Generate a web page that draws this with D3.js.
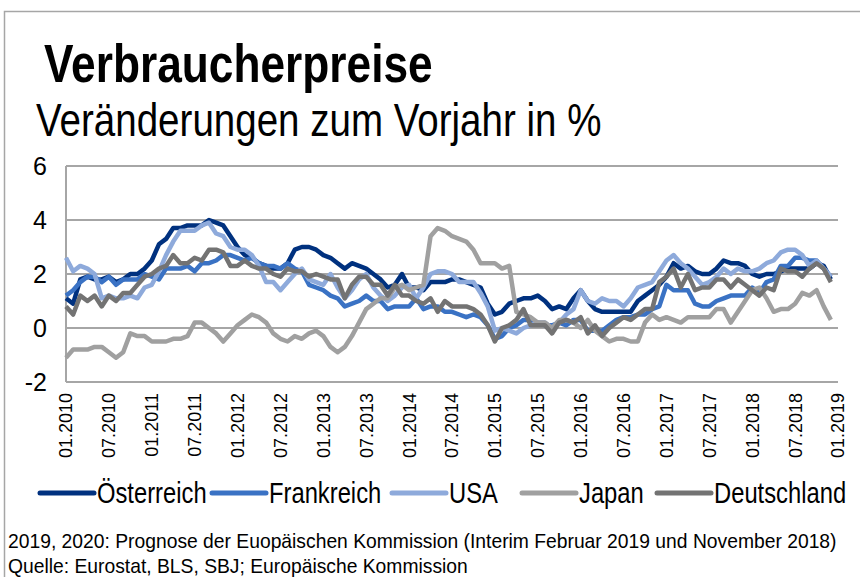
<!DOCTYPE html>
<html>
<head>
<meta charset="utf-8">
<script src="https://cdn.jsdelivr.net/npm/d3@7"></script>
<style>
  html, body { margin: 0; padding: 0; background: #fff; }
  svg { display: block; }
</style>
</head>
<body>
<div class="chartcontainer"></div>
<script>
// monthly values, 01.2010 - 12.2018, year on year change in %
const oesterreich = [
  1.1, 0.9, 1.8, 1.9, 1.8, 1.8, 1.9, 1.7, 1.8, 2.0, 2.0, 2.2,
  2.5, 3.1, 3.3, 3.7, 3.7, 3.8, 3.8, 3.8, 4.0, 3.9, 3.8, 3.4,
  3.0, 2.7, 2.6, 2.4, 2.3, 2.2, 2.2, 2.4, 2.9, 3.0, 3.0, 2.9,
  2.7, 2.6, 2.4, 2.2, 2.4, 2.3, 2.2, 2.0, 1.8, 1.5, 1.6, 2.0,
  1.5, 1.5, 1.4, 1.7, 1.7, 1.7, 1.8, 1.8, 1.7, 1.6, 1.5, 0.9,
  0.5, 0.6, 0.9, 1.0, 1.1, 1.1, 1.2, 1.0, 0.7, 0.8, 0.7, 1.1,
  1.4, 1.0, 0.7, 0.6, 0.6, 0.6, 0.6, 0.6, 1.0, 1.2, 1.4, 1.6,
  1.9, 2.4, 2.2, 2.3, 2.1, 2.0, 2.0, 2.2, 2.5, 2.4, 2.4, 2.3,
  2.0, 1.9, 2.0, 2.0, 2.1, 2.2, 2.2, 2.2, 2.2, 2.4, 2.3, 1.8,
];
const frankreich = [
  1.2, 1.4, 1.7, 1.9, 1.9, 1.7, 1.9, 1.6, 1.8, 1.8, 1.8, 2.0,
  1.9, 1.8, 2.2, 2.2, 2.2, 2.3, 2.1, 2.4, 2.4, 2.5, 2.7, 2.7,
  2.6, 2.5, 2.6, 2.4, 2.3, 2.3, 2.2, 2.4, 2.2, 2.1, 1.6, 1.5,
  1.4, 1.2, 1.1, 0.8, 0.9, 1.0, 1.2, 1.0, 1.0, 0.7, 0.8, 0.8,
  0.8, 1.1, 0.7, 0.8, 0.8, 0.6, 0.6, 0.5, 0.4, 0.5, 0.4, 0.1,
  -0.4, -0.3, 0.0, 0.1, 0.3, 0.3, 0.2, 0.1, 0.1, 0.2, 0.1, 0.3,
  0.3, -0.1, -0.1, -0.1, 0.1, 0.3, 0.4, 0.4, 0.5, 0.5, 0.7, 0.8,
  1.6, 1.4, 1.4, 1.4, 0.9, 0.8, 0.8, 1.0, 1.1, 1.2, 1.2, 1.2,
  1.5, 1.3, 1.7, 1.8, 2.3, 2.3, 2.6, 2.6, 2.5, 2.5, 2.2, 1.9,
];
const usa = [
  2.6, 2.1, 2.3, 2.2, 2.0, 1.1, 1.2, 1.1, 1.1, 1.2, 1.1, 1.5,
  1.6, 2.1, 2.7, 3.2, 3.6, 3.6, 3.6, 3.8, 3.9, 3.5, 3.4, 3.0,
  2.9, 2.9, 2.7, 2.3, 1.7, 1.7, 1.4, 1.7, 2.0, 2.2, 1.8, 1.7,
  1.6, 2.0, 1.5, 1.1, 1.4, 1.8, 2.0, 1.5, 1.2, 1.0, 1.2, 1.5,
  1.6, 1.1, 1.5, 2.0, 2.1, 2.1, 2.0, 1.7, 1.7, 1.7, 1.3, 0.8,
  -0.1, 0.0, -0.1, -0.2, 0.0, 0.1, 0.2, 0.2, 0.0, 0.2, 0.5, 0.7,
  1.4, 1.0, 0.9, 1.1, 1.0, 1.0, 0.8, 1.1, 1.5, 1.6, 1.7, 2.1,
  2.5, 2.7, 2.4, 2.2, 1.9, 1.6, 1.7, 1.9, 2.2, 2.0, 2.2, 2.1,
  2.1, 2.2, 2.4, 2.5, 2.8, 2.9, 2.9, 2.7, 2.3, 2.5, 2.2, 1.9,
];
const japan = [
  -1.1, -0.8, -0.8, -0.8, -0.7, -0.7, -0.9, -1.1, -0.9, -0.2, -0.3, -0.3,
  -0.5, -0.5, -0.5, -0.4, -0.4, -0.3, 0.2, 0.2, 0.0, -0.2, -0.5, -0.2,
  0.1, 0.3, 0.5, 0.4, 0.2, -0.2, -0.4, -0.5, -0.3, -0.4, -0.2, -0.1,
  -0.3, -0.7, -0.9, -0.7, -0.3, 0.2, 0.7, 0.9, 1.1, 1.1, 1.5, 1.6,
  1.4, 1.5, 1.6, 3.4, 3.7, 3.6, 3.4, 3.3, 3.2, 2.9, 2.4, 2.4,
  2.4, 2.2, 2.3, 0.6, 0.5, 0.4, 0.2, 0.2, 0.0, 0.3, 0.3, 0.2,
  0.0, 0.3, -0.1, -0.3, -0.5, -0.4, -0.4, -0.5, -0.5, 0.2, 0.5, 0.3,
  0.4, 0.3, 0.2, 0.4, 0.4, 0.4, 0.4, 0.7, 0.7, 0.2, 0.6, 1.0,
  1.4, 1.5, 1.1, 0.6, 0.7, 0.7, 0.9, 1.3, 1.2, 1.4, 0.8, 0.3,
];
const deutschland = [
  0.8, 0.5, 1.2, 1.0, 1.2, 0.8, 1.2, 1.0, 1.3, 1.3, 1.6, 1.9,
  2.0, 2.2, 2.3, 2.7, 2.4, 2.4, 2.6, 2.5, 2.9, 2.9, 2.8, 2.3,
  2.3, 2.5, 2.3, 2.2, 2.2, 2.0, 1.9, 2.2, 2.1, 2.1, 1.9, 2.0,
  1.9, 1.8, 1.8, 1.1, 1.6, 1.9, 1.9, 1.6, 1.6, 1.2, 1.6, 1.2,
  1.2, 1.0, 0.9, 1.1, 0.6, 1.0, 0.8, 0.8, 0.8, 0.7, 0.5, 0.1,
  -0.5, 0.0, 0.1, 0.3, 0.7, 0.1, 0.1, 0.1, -0.2, 0.2, 0.3, 0.2,
  0.4, -0.2, 0.1, -0.3, 0.0, 0.2, 0.4, 0.3, 0.5, 0.7, 0.7, 1.7,
  1.9, 2.2, 1.5, 2.0, 1.4, 1.5, 1.5, 1.8, 1.8, 1.5, 1.8, 1.6,
  1.4, 1.2, 1.5, 1.4, 2.2, 2.1, 2.1, 1.9, 2.2, 2.4, 2.2, 1.7,
];

const seriesNames = ['Österreich', 'Frankreich', 'USA', 'Japan', 'Deutschland'];
const seriesColors = ['#00317f', '#3a72c4', '#8eaadb', '#a0a0a0', '#737373'];
const xTickLabels = [
  '01.2010', '07.2010', '01.2011', '07.2011', '01.2012', '07.2012',
  '01.2013', '07.2013', '01.2014', '07.2014', '01.2015', '07.2015',
  '01.2016', '07.2016', '01.2017', '07.2017', '01.2018', '07.2018', '01.2019',
];
const yTicks = [-2, 0, 2, 4, 6];
const footnotes = [
  '2019, 2020: Prognose der Euopäischen Kommission (Interim Februar 2019 und November 2018)',
  'Quelle: Eurostat, BLS, SBJ; Europäische Kommission',
];

// check for a narrow font, otherwise squeeze the regular one
function hasFont(name) {
  const ctx = document.createElement('canvas').getContext('2d');
  const probe = 'Verbraucherpreise 0123';
  ctx.font = '40px monospace';
  const a = ctx.measureText(probe).width;
  ctx.font = `40px "${name}", monospace`;
  const b = ctx.measureText(probe).width;
  return a !== b;
}
const narrowOk = hasFont('Liberation Sans Narrow');
const narrowFamily = narrowOk ? '"Liberation Sans Narrow", sans-serif' : '"Liberation Sans", Arial, sans-serif';
const sx = narrowOk ? 1 : 0.82;

const svg = d3
  .select('.chartcontainer')
  .append('svg')
  .attr('width', 860)
  .attr('height', 577);

function narrowText(x, y, str, size, weight, stretch) {
  const k = sx * (stretch || 1);
  const g = svg.append('g').attr('transform', `translate(${x},${y}) scale(${k},1)`);
  const t = g
    .append('text')
    .style('font-family', narrowFamily)
    .style('font-size', `${size}px`)
    .style('font-weight', weight || 'normal')
    .attr('fill', '#000')
    .text(str);
  return t.node().getComputedTextLength() * k;
}

// outer frame (top and left edge)
svg
  .append('path')
  .attr('d', 'M4.5,577 V11.5 H860')
  .attr('fill', 'none')
  .attr('stroke', '#a6a6a6')
  .attr('stroke-width', 1.5);

narrowText(44, 82, 'Verbraucherpreise', 54, 'bold');
narrowText(36, 136, 'Veränderungen zum Vorjahr in %', 47);

const x = d3.scaleLinear().domain([0, 108]).range([66, 838]);
const y = d3.scaleLinear().domain([-2, 6]).range([382, 166]);

// grid
svg
  .append('g')
  .selectAll('line')
  .data(yTicks)
  .enter()
  .append('line')
  .attr('x1', x(0))
  .attr('x2', x(108))
  .attr('y1', d => y(d))
  .attr('y2', d => y(d))
  .attr('stroke', '#a6a6a6')
  .attr('stroke-width', 2);

svg
  .append('line')
  .attr('x1', x(0))
  .attr('x2', x(0))
  .attr('y1', y(6))
  .attr('y2', y(-2))
  .attr('stroke', '#a6a6a6')
  .attr('stroke-width', 2);

svg
  .append('g')
  .selectAll('text')
  .data(yTicks)
  .enter()
  .append('text')
  .attr('x', 47)
  .attr('y', d => y(d))
  .attr('dy', '0.36em')
  .attr('text-anchor', 'end')
  .style('font-family', '"Liberation Sans", Arial, sans-serif')
  .style('font-size', '25px')
  .text(d => d);

svg
  .append('g')
  .selectAll('text')
  .data(xTickLabels)
  .enter()
  .append('text')
  .attr('transform', (d, i) => `translate(${x(i * 6)},393) rotate(-90)`)
  .attr('dy', '0.36em')
  .attr('text-anchor', 'end')
  .style('font-family', '"Liberation Sans", Arial, sans-serif')
  .style('font-size', '18px')
  .text(d => d);

const allSeries = [oesterreich, frankreich, usa, japan, deutschland];
const line = d3
  .line()
  .x((d, i) => x(i))
  .y(d => y(d));

svg
  .append('g')
  .selectAll('path')
  .data(allSeries)
  .enter()
  .append('path')
  .attr('d', line)
  .attr('fill', 'none')
  .attr('stroke', (d, i) => seriesColors[i])
  .attr('stroke-width', 4.5)
  .attr('stroke-linejoin', 'round');

// legend: swatch start of each entry
const legendX = [40, 212, 392, 522, 657];
const ly = 493;
seriesNames.forEach((name, i) => {
  svg
    .append('line')
    .attr('x1', legendX[i])
    .attr('x2', legendX[i] + 54)
    .attr('y1', ly)
    .attr('y2', ly)
    .attr('stroke', seriesColors[i])
    .attr('stroke-width', 5)
    .attr('stroke-linecap', 'round');
  narrowText(legendX[i] + 57, ly + 10, name, 29);
});

// footnotes, slightly smaller glyphs stretched wider so the two lines stay apart
narrowText(8, 548, footnotes[0], 21, 'normal', 1.12);
narrowText(8, 572.5, footnotes[1], 21, 'normal', 1.12);
</script>
</body>
</html>
